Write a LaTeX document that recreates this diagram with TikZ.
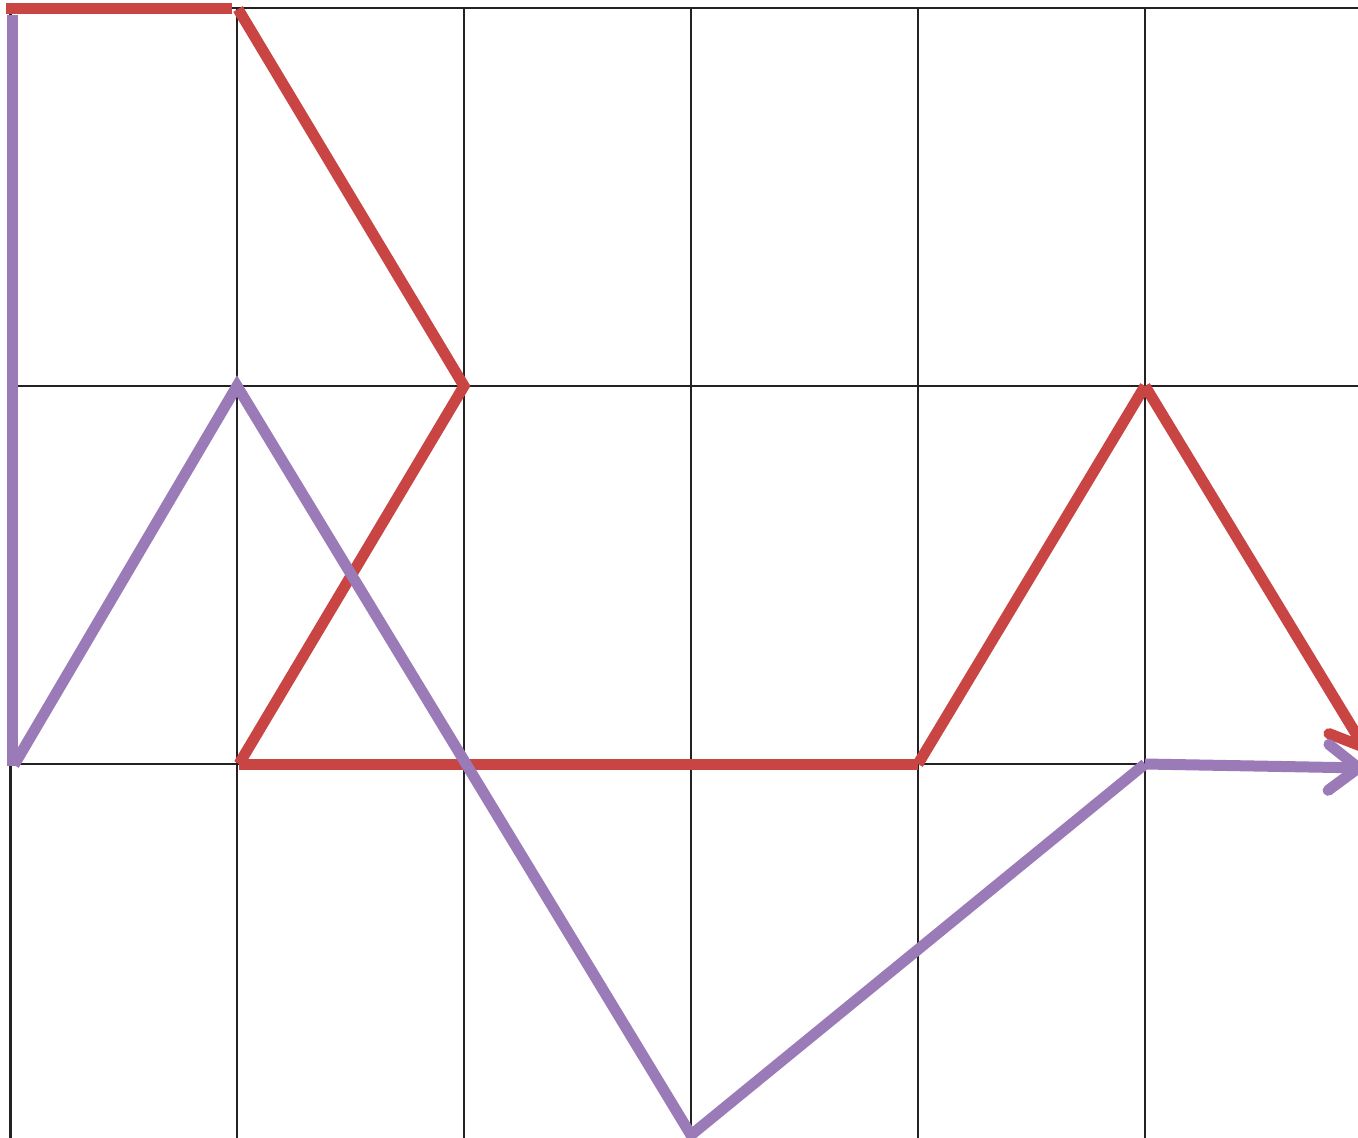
\documentclass[tikz,border=0pt]{standalone}
\usetikzlibrary{arrows.meta}
\definecolor{cred}{RGB}{201,69,67}
\definecolor{cpurple}{RGB}{155,122,184}
\definecolor{cgrid}{RGB}{34,34,34}
\begin{document}
\begin{tikzpicture}[x=1pt,y=-1pt,
  gridline/.style={cgrid,line width=2.5pt},
  redseg/.style={cred,line width=11pt},
  purpseg/.style={cpurple,line width=11pt},
  barbtip/.style={-{Straight Barb[length=30pt,width=46pt,round]}}]
\useasboundingbox (0,0) rectangle (1358,1138);
\begin{scope}
\clip (0,0) rectangle (1358,1138);
% grid
\foreach \x in {10.5,237,464,691,918,1145}
  \draw[gridline] (\x,8) -- (\x,1140);
\foreach \y in {8,386,764}
  \draw[gridline] (10.5,\y) -- (1360,\y);
% points
\coordinate (rs) at (6,8.5);
\coordinate (re) at (232,8.5);
\coordinate (a) at (238,9);
\coordinate (b) at (464,386);
\coordinate (c) at (239,764);
\coordinate (d) at (918,764);
\coordinate (e) at (1145,386);
\coordinate (rt) at (1367,752);
\coordinate (p0) at (12,15);
\coordinate (p1) at (12,766);
\coordinate (p1b) at (14,765);
\coordinate (p2) at (237,386);
\coordinate (p3) at (691,1135);
\coordinate (p4) at (1145,764);
\coordinate (pt) at (1364,768);
% red path
\draw[redseg] (rs) -- (re);
\draw[redseg,line join=miter] (a) -- (b) -- (c);
\draw[redseg] (c) -- (d);
\draw[redseg] (d) -- (e);
\draw[redseg,barbtip] (e) -- (rt);
% purple path
\draw[purpseg] (p0) -- (p1);
\draw[purpseg,line join=miter] (p1b) -- (p2) -- (p3) -- (p4);
\draw[purpseg,barbtip] (p4) -- (pt);
\end{scope}
\end{tikzpicture}
\end{document}
